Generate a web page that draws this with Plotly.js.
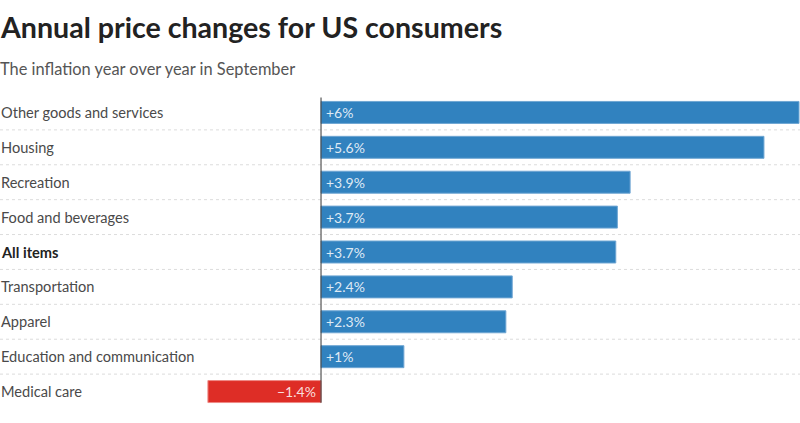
<!DOCTYPE html>
<html><head><meta charset="utf-8">
<script src="https://cdn.plot.ly/plotly-3.0.1.min.js"></script>
<style>html,body{margin:0;padding:0;background:#fff}#chart{width:800px;height:423px}</style>
</head><body><div id="chart"></div>
<script>
const categories = ["Other goods and services","Housing","Recreation","Food and beverages","All items","Transportation","Apparel","Education and communication","Medical care"];
const values = [6, 5.56, 3.88, 3.72, 3.7, 2.4, 2.32, 1.04, -1.42];
const valueLabels = ["+6%","+5.6%","+3.9%","+3.7%","+3.7%","+2.4%","+2.3%","+1%","\u22121.4%"];
const boldCategory = "All items";

const FONT = "'Source Sans Pro', Lato, 'Noto Sans', sans-serif";
const blue = "#3182bf", red = "#de2d26";

const trace = {
  type: "bar", orientation: "h",
  x: values, y: categories,
  marker: {color: values.map(v => v < 0 ? red : blue),
           line: {color: values.map(v => v < 0 ? "#ee8a86" : "#6fa6d3"), width: 1}},
  width: 0.63, hoverinfo: "none"
};

const annotations = [];
categories.forEach((c, i) => {
  annotations.push({xref: "paper", x: 0, y: c, yref: "y", xanchor: "left", yanchor: "middle",
    text: c === boldCategory ? "<b>" + c + "</b>" : c, showarrow: false,
    font: {family: FONT, size: 14.6, color: c === boldCategory ? "#222" : "#4a4a4a"}, xshift: -1});
  const neg = values[i] < 0;
  annotations.push({x: 0, y: c, xref: "x", yref: "y", xanchor: neg ? "right" : "left", yanchor: "middle",
    text: valueLabels[i], showarrow: false, xshift: neg ? -3 : 3,
    font: {family: FONT, size: 14, color: "rgba(255,255,255,0.85)"}});
});
annotations.push({xref: "paper", yref: "paper", x: 0, y: 1, xanchor: "left", yanchor: "bottom",
  text: "<b>Annual price changes for US consumers</b>", showarrow: false, yshift: 49, xshift: -2,
  font: {family: FONT, size: 28.6, color: "#222"}});
annotations.push({xref: "paper", yref: "paper", x: 0, y: 1, xanchor: "left", yanchor: "bottom",
  text: "The inflation year over year in September", showarrow: false, yshift: 15, xshift: -2,
  font: {family: FONT, size: 16.4, color: "#555"}});

const shapes = [];
for (let i = 0; i < categories.length - 1; i++) {
  shapes.push({type: "line", xref: "paper", x0: 0, x1: 1, yref: "y", y0: i + 0.5, y1: i + 0.5,
    line: {color: "#dcdcdc", width: 1, dash: "dot"}, layer: "below"});
}
shapes.push({type: "line", xref: "x", x0: 0, x1: 0, yref: "paper", y0: 0.02, y1: 0.992,
  line: {color: "#333", width: 1}});

const layout = {
  width: 800, height: 423,
  margin: {l: 0, r: 0, t: 94.5, b: 13.5, pad: 0},
  paper_bgcolor: "#fff", plot_bgcolor: "#fff",
  showlegend: false,
  xaxis: {range: [-4.03, 6.0126], showgrid: false, zeroline: false, showticklabels: false, fixedrange: true},
  yaxis: {type: "category", categoryorder: "array", categoryarray: categories, autorange: "reversed",
          range: [categories.length - 0.5, -0.5], showgrid: false, showticklabels: false, zeroline: false},
  annotations, shapes,
  font: {family: FONT}
};
Plotly.newPlot("chart", [trace], layout, {displayModeBar: false, staticPlot: true});
</script></body></html>
